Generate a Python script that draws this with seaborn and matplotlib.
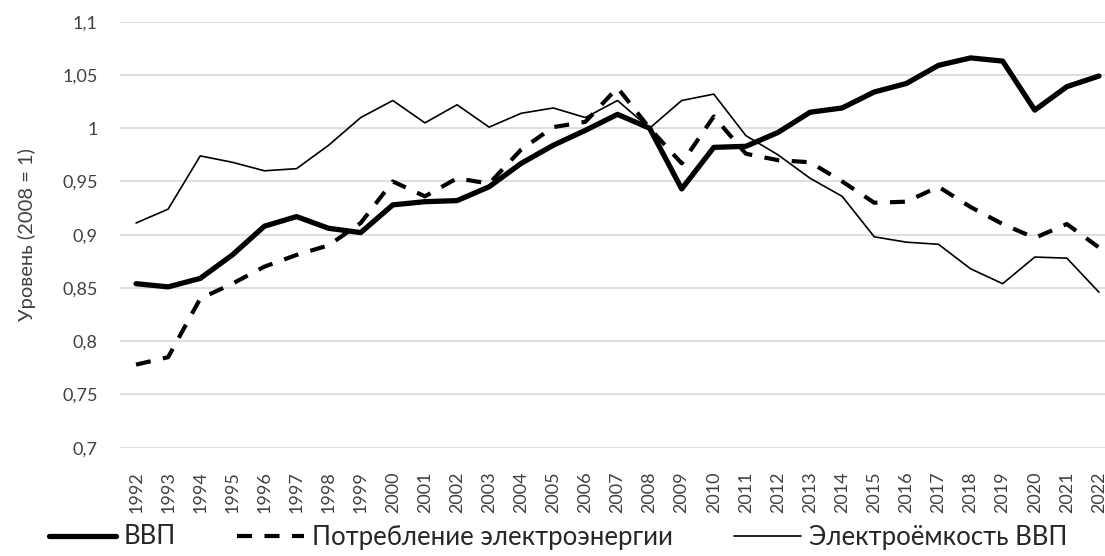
import numpy as np
import pandas as pd
import matplotlib
matplotlib.use("Agg")
import matplotlib.pyplot as plt
import seaborn as sns
from matplotlib.ticker import FuncFormatter
from matplotlib.lines import Line2D

years = list(range(1992, 2023))
gdp = [0.854, 0.851, 0.859, 0.881, 0.908, 0.917, 0.906, 0.902, 0.928, 0.931,
       0.932, 0.945, 0.967, 0.984, 0.998, 1.013, 1.000, 0.943, 0.982, 0.983,
       0.996, 1.015, 1.019, 1.034, 1.042, 1.059, 1.066, 1.063, 1.017, 1.039, 1.049]
consumption = [0.778, 0.785, 0.840, 0.854, 0.870, 0.881, 0.890, 0.911, 0.950, 0.936,
               0.953, 0.948, 0.980, 1.001, 1.006, 1.038, 1.000, 0.967, 1.011, 0.976,
               0.970, 0.968, 0.950, 0.930, 0.931, 0.945, 0.926, 0.910, 0.897, 0.910, 0.888]
intensity = [0.911, 0.924, 0.974, 0.968, 0.960, 0.962, 0.984, 1.010, 1.026, 1.005,
             1.022, 1.001, 1.014, 1.019, 1.010, 1.026, 1.000, 1.026, 1.032, 0.993,
             0.975, 0.953, 0.936, 0.898, 0.893, 0.891, 0.868, 0.854, 0.879, 0.878, 0.846]
series_names = ["ВВП", "Потребление электроэнергии", "Электроёмкость ВВП"]
y_ticks = [0.7, 0.75, 0.8, 0.85, 0.9, 0.95, 1.0, 1.05, 1.1]
y_label = "Уровень (2008 = 1)"

sns.set_theme(style="white")
plt.rcParams['font.family'] = ['Lato', 'DejaVu Sans']

fig = plt.figure(figsize=(11.05, 5.56), dpi=100)
ax = fig.add_axes([120/1105, 1-447.7/556, 995/1105, (447.7-21.7)/556])

styles = [dict(lw=3.8, ls="-"), dict(lw=3.0, ls=(0, (3.6, 3.0))), dict(lw=1.2, ls="-")]
for name, vals, st in zip(series_names, [gdp, consumption, intensity], styles):
    sns.lineplot(x=years, y=vals, ax=ax, color="black", linewidth=st["lw"],
                 linestyle=st["ls"], legend=False)

ax.set_xlim(1991.5, 2022.5)
ax.set_ylim(0.7, 1.1)
ax.set_yticks(y_ticks)
ax.yaxis.set_major_formatter(FuncFormatter(lambda v, p: ("%g" % round(v, 2)).replace(".", ",")))
ax.set_xticks(years)
ax.set_xticklabels([str(y) for y in years], rotation=90, fontsize=13)
ax.tick_params(axis="y", labelsize=13, length=0, pad=16)
ax.tick_params(axis="x", length=0, pad=17)
for lab in ax.get_yticklabels() + ax.get_xticklabels():
    lab.set_color("#404040")
ax.grid(axis="y", color="#d9d9d9", linewidth=1.2)
ax.grid(axis="x", visible=False)
for s in ax.spines.values():
    s.set_visible(False)
ax.set_ylabel(y_label, fontsize=14.5, color="#404040")
ax.yaxis.set_label_coords(-84/995, 0.5)

handles = [Line2D([], [], color="black", lw=st["lw"], ls=st["ls"]) for st in styles]
fig.legend(handles, series_names, loc="center", bbox_to_anchor=(0.505, 1-537/556),
           ncol=3, frameon=False, fontsize=18.5, handlelength=2.6, handletextpad=0.3,
           columnspacing=2.4, borderpad=0, borderaxespad=0)

fig.savefig("out.png", dpi=100)
